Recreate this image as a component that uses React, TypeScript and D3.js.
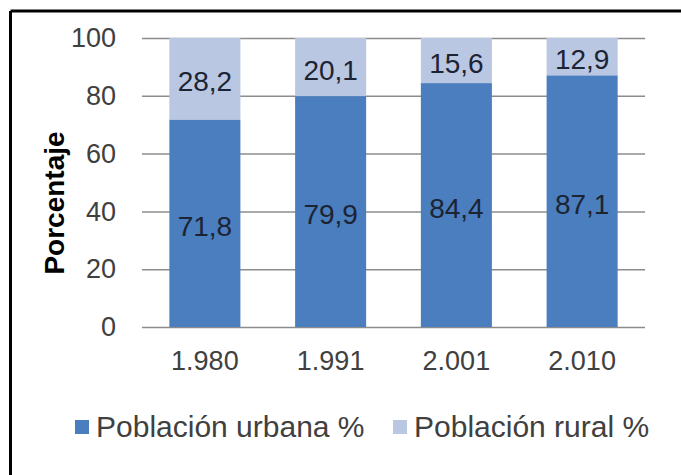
import React, { useRef, useEffect } from "react"
import * as d3 from "d3"

// datos
const years = ["1.980", "1.991", "2.001", "2.010"]
const urbana = [71.8, 79.9, 84.4, 87.1]
const rural = [28.2, 20.1, 15.6, 12.9]
const yTicks = [0, 20, 40, 60, 80, 100]
const seriesNames = ["Población urbana %", "Población rural %"]
const seriesColors = ["#4a7ebf", "#b9c7e2"]

const W = 681
const H = 475
const margin = { top: 38, right: 36, bottom: 148, left: 142 }
const font = "'Liberation Sans', Arial, sans-serif"

const fmt = (v: number) => v.toFixed(1).replace(".", ",")

const App: React.FC = () => {
  const axisRef = useRef<SVGGElement | null>(null)

  const x = d3.scaleBand<string>()
    .domain(years)
    .range([margin.left, W - margin.right])
    .paddingInner(0.435)
    .paddingOuter(0.2175)

  const y = d3.scaleLinear()
    .domain([0, 100])
    .range([H - margin.bottom, margin.top])

  const rows = years.map((yr, i) => ({ year: yr, urbana: urbana[i], rural: rural[i] }))
  const stack = d3.stack<any>().keys(["urbana", "rural"])(rows)

  useEffect(() => {
    if (!axisRef.current) return
    const g = d3.select(axisRef.current)
    g.selectAll("*").remove()
    const axis = d3.axisLeft(y).tickValues(yTicks).tickSize(-(W - margin.left - margin.right)).tickPadding(26)
    g.attr("transform", `translate(${margin.left},0)`).call(axis)
    g.select(".domain").remove()
    g.selectAll(".tick line").attr("stroke", "#8c8c8c").attr("stroke-width", 1.5)
    g.selectAll(".tick text")
      .attr("fill", "#404040")
      .attr("font-size", 27)
      .attr("font-family", font)
  }, [])

  return (
    <div style={{ position: "absolute", left: 0, top: 0 }}>
      <svg width={W} height={H} style={{ display: "block", background: "#fff" }}>
        <line x1={10.5} y1={11} x2={W} y2={11} stroke="#000" strokeWidth={3} />
        <line x1={10.5} y1={11} x2={10.5} y2={H} stroke="#000" strokeWidth={3} />

        <g ref={axisRef}></g>

        {stack.map((s, si) => (
          <g key={s.key} fill={seriesColors[si]}>
            {s.map((d: any, i: number) => (
              <rect key={i}
                x={x(years[i])}
                y={y(d[1])}
                width={x.bandwidth()}
                height={y(d[0]) - y(d[1])} />
            ))}
          </g>
        ))}

        {stack.map((s) => (
          <g key={"lab" + s.key} fontFamily={font} fontSize={28} fill="#1c2433" textAnchor="middle">
            {s.map((d: any, i: number) => (
              <text key={i}
                x={(x(years[i]) as number) + x.bandwidth() / 2}
                y={(y(d[0]) + y(d[1])) / 2}
                dy="0.45em">{fmt(d[1] - d[0])}</text>
            ))}
          </g>
        ))}

        <g fontFamily={font} fontSize={27} fill="#404040" textAnchor="middle">
          {years.map((yr) => (
            <text key={yr} x={(x(yr) as number) + x.bandwidth() / 2} y={370}>{yr}</text>
          ))}
        </g>

        <text transform="translate(64,203) rotate(-90)"
          textAnchor="middle" fontFamily={font}
          fontWeight="bold" fontSize={28} fill="#000">Porcentaje</text>

        <g fontFamily={font} fontSize={30} fill="#404040">
          <rect x={75} y={420} width={14} height={14} fill={seriesColors[0]} />
          <text x={96} y={437}>{seriesNames[0]}</text>
          <rect x={393} y={420} width={14} height={14} fill={seriesColors[1]} />
          <text x={414} y={437}>{seriesNames[1]}</text>
        </g>
      </svg>
    </div>
  )
}

export default App
